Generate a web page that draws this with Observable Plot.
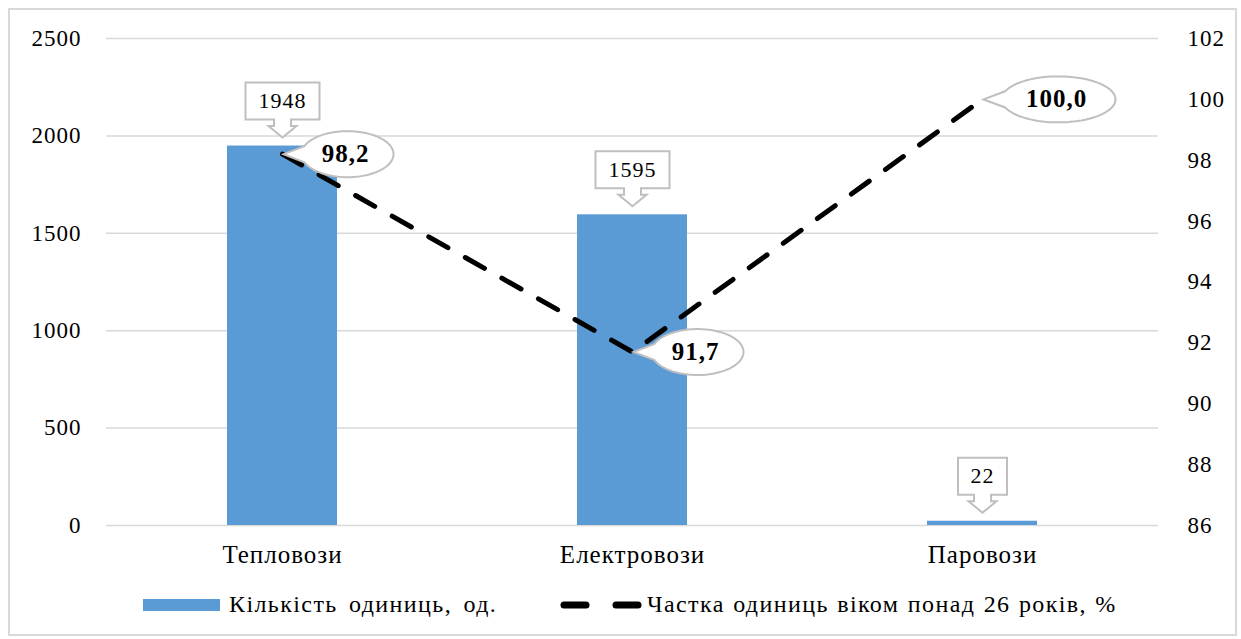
<!DOCTYPE html>
<html>
<head>
<meta charset="utf-8">
<script src="https://cdn.jsdelivr.net/npm/d3@7"></script>
<script src="https://cdn.jsdelivr.net/npm/@observablehq/plot@0.6"></script>
<style>
  body { margin: 0; background: #fff; }
  #frame { position: absolute; left: 8px; top: 8px; width: 1229px; height: 628px; border: 2px solid #d9d9d9; box-sizing: border-box; }
  #chart { position: absolute; left: 0; top: 0; }
  #chart svg text { letter-spacing: 1px; }
  .legend { font-family: "Liberation Serif", serif; font-size: 24px; color: #000; }
  .legend .sw { position: absolute; }
  .legend .lbl { position: absolute; top: 591px; white-space: nowrap; letter-spacing: 1.4px; word-spacing: 4px; }
</style>
</head>
<body>
<div id="frame"></div>
<div id="chart"></div>
<div class="legend">
  <div class="sw" style="left:143px;top:599px;width:77px;height:12px;background:#5b9bd5"></div>
  <div class="lbl" style="left:229px">Кількість одиниць, од.</div>
  <svg class="sw" style="left:556px;top:598px" width="90" height="14">
    <line x1="8" y1="7" x2="82" y2="7" stroke="#000" stroke-width="7" stroke-linecap="round" stroke-dasharray="22,30"></line>
  </svg>
  <div class="lbl" style="left:647px;word-spacing:1px">Частка одиниць віком понад 26 років, %</div>
</div>
<script>
// Rolling stock by type
const categories = ["Тепловози", "Електровози", "Паровози"];
const units = [1948, 1595, 22];            // кількість одиниць, од.
const shareOld = [98.2, 91.7, 100.0];      // частка одиниць віком понад 26 років, %

const leftTicks = [0, 500, 1000, 1500, 2000, 2500];
const rightTicks = [86, 88, 90, 92, 94, 96, 98, 100, 102];

const rows = categories.map((c, i) => ({cat: c, units: units[i], share: shareOld[i]}));

// secondary (percent) axis mapped onto the count scale
const toLeft = d3.scaleLinear([86, 102], [0, 2500]);

// rectangular callout with a downward arrow, sitting above a bar top
function boxCallout(w) {
  return {
    draw(ctx) {
      const h = w / 2;
      ctx.moveTo(-h, -63.5);
      ctx.lineTo(h, -63.5);
      ctx.lineTo(h, -26.5);
      ctx.lineTo(8.5, -26.5);
      ctx.lineTo(8.5, -20);
      ctx.lineTo(14, -20);
      ctx.lineTo(0, -8.5);
      ctx.lineTo(-14, -20);
      ctx.lineTo(-8.5, -20);
      ctx.lineTo(-8.5, -26.5);
      ctx.lineTo(-h, -26.5);
      ctx.closePath();
    }
  };
}

// oval speech bubble whose tail points back to the data point
function bubbleCallout(rx, ry, cx) {
  return {
    draw(ctx) {
      const t = 0.36;
      ctx.moveTo(1, 0);
      const n = 72;
      for (let k = 0; k <= n; ++k) {
        const a = Math.PI + t + (2 * Math.PI - 2 * t) * k / n;
        ctx.lineTo(cx + rx * Math.cos(a), ry * Math.sin(a));
      }
      ctx.closePath();
    }
  };
}

const fmtPct = v => v.toFixed(1).replace(".", ",");
const font = "Liberation Serif";

const barCallouts = rows.map(d => {
  const w = 12.5 * String(d.units).length + 24;
  return Plot.dot([d], {x: "cat", y: "units", r: 5, symbol: boxCallout(w), fill: "white", stroke: "#bfbfbf", strokeWidth: 2});
});
const barLabels = Plot.text(rows, {x: "cat", y: "units", text: d => String(d.units), dy: -45, fontSize: 22, fontFamily: font, fill: "#000"});

const bubbleMarks = rows.flatMap(d => {
  const s = fmtPct(d.share);
  const rx = 11 * s.length + 2;
  const cx = rx + 19;
  return [
    Plot.dot([d], {x: "cat", y: r => toLeft(r.share), r: 5, symbol: bubbleCallout(rx, 23, cx), fill: "white", stroke: "#bfbfbf", strokeWidth: 2}),
    Plot.text([d], {x: "cat", y: r => toLeft(r.share), text: () => s, dx: cx - 2, fontSize: 25, fontWeight: "bold", fontFamily: font, fill: "#000"})
  ];
});

const chart = Plot.plot({
  width: 1241,
  height: 575,
  marginLeft: 106,
  marginRight: 83,
  marginTop: 38,
  marginBottom: 50,
  style: {fontFamily: font, background: "transparent", overflow: "visible"},
  x: {domain: categories, padding: 0, label: null},
  y: {domain: [0, 2500], label: null},
  marks: [
    Plot.gridY(leftTicks, {stroke: "#d9d9d9", strokeOpacity: 1, strokeWidth: 1.5}),
    Plot.axisY(leftTicks, {anchor: "left", tickSize: 0, tickPadding: 25, fontSize: 23, label: null, fill: "#000",
      tickFormat: v => String(v)}),
    Plot.axisY(rightTicks.map(toLeft), {anchor: "right", tickSize: 0, tickPadding: 29, fontSize: 23, label: null, fill: "#000",
      tickFormat: v => String(Math.round(toLeft.invert(v)))}),
    Plot.axisX({tickSize: 0, tickPadding: 20, fontSize: 25, label: null, fill: "#000"}),
    Plot.barY(rows, {x: "cat", y: "units", fill: "#5b9bd5", insetLeft: 120, insetRight: 120}),
    Plot.line(rows, {x: "cat", y: d => toLeft(d.share), stroke: "#000", strokeWidth: 5, strokeDasharray: "22,20", strokeLinecap: "round"}),
    ...barCallouts,
    barLabels,
    ...bubbleMarks
  ]
});
document.getElementById("chart").appendChild(chart);
</script>
</body>
</html>
